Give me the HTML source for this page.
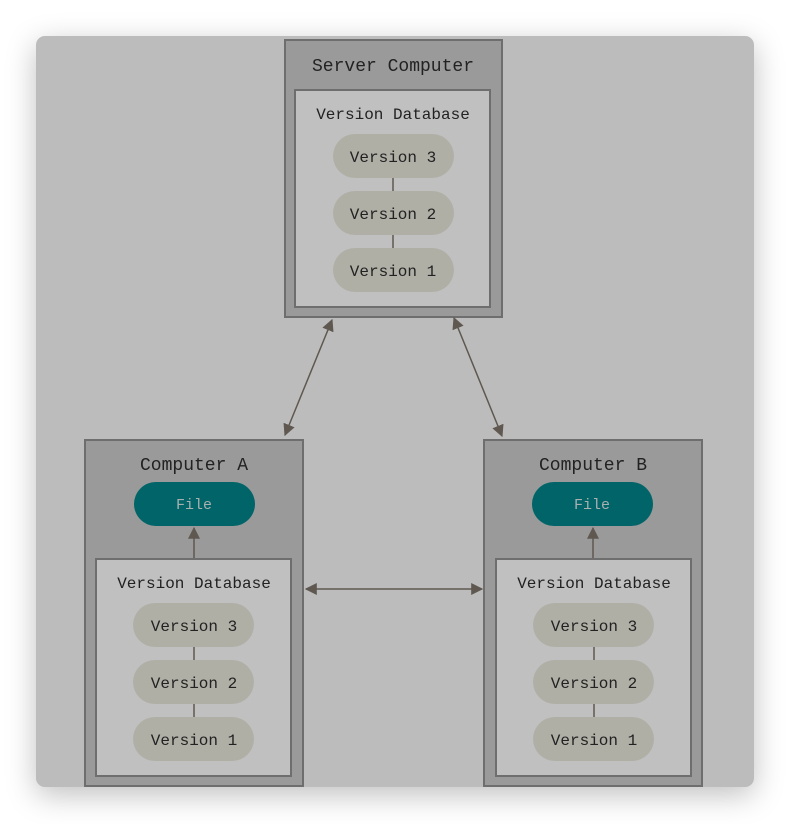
<!DOCTYPE html>
<html><head><meta charset="utf-8"><style>
html,body{margin:0;padding:0;background:#fff;width:790px;height:824px;overflow:hidden}
.bg{position:absolute;left:36px;top:36px;width:718px;height:751px;background:#bcbcbc;border-radius:9px;box-shadow:0 8px 30px rgba(0,0,0,0.25)}
svg{position:absolute;left:0;top:0}
text{font-family:"Liberation Mono","DejaVu Sans Mono",monospace;text-anchor:middle;fill:#222}
</style></head><body>
<div class="bg"></div>
<svg width="790" height="824" viewBox="0 0 790 824">
<defs>
<marker id="a" viewBox="0 0 10 10" refX="9" refY="5" markerWidth="8" markerHeight="8" orient="auto-start-reverse"><path d="M0,0L10,5L0,10z" fill="#5f5850"/></marker>
</defs>
<g stroke="#6e6e6e" stroke-width="2">
<rect x="285" y="40" width="217" height="277" fill="#9a9a9a"/>
<rect x="295" y="90" width="195" height="217" fill="#c0c0c0"/>
<rect x="85" y="440" width="218" height="346" fill="#9a9a9a"/>
<rect x="96" y="559" width="195" height="217" fill="#c0c0c0"/>
<rect x="484" y="440" width="218" height="346" fill="#9a9a9a"/>
<rect x="496" y="559" width="195" height="217" fill="#c0c0c0"/>
</g>
<g stroke="#5f5850" stroke-width="1.5">
<line x1="393" y1="178" x2="393" y2="248"/>
<line x1="194" y1="647" x2="194" y2="717"/>
<line x1="594" y1="647" x2="594" y2="717"/>
<line x1="332" y1="320" x2="285" y2="435" marker-start="url(#a)" marker-end="url(#a)"/>
<line x1="454" y1="318" x2="502" y2="436" marker-start="url(#a)" marker-end="url(#a)"/>
<line x1="306" y1="589" x2="482" y2="589" marker-start="url(#a)" marker-end="url(#a)"/>
<line x1="194" y1="558" x2="194" y2="528" marker-end="url(#a)"/>
<line x1="593" y1="558" x2="593" y2="528" marker-end="url(#a)"/>
</g>
<g fill="#b0afa6">
<rect x="333" y="134" width="121" height="44" rx="22"/>
<rect x="333" y="191" width="121" height="44" rx="22"/>
<rect x="333" y="248" width="121" height="44" rx="22"/>
<rect x="133" y="603" width="121" height="44" rx="22"/>
<rect x="133" y="660" width="121" height="44" rx="22"/>
<rect x="133" y="717" width="121" height="44" rx="22"/>
<rect x="533" y="603" width="121" height="44" rx="22"/>
<rect x="533" y="660" width="121" height="44" rx="22"/>
<rect x="533" y="717" width="121" height="44" rx="22"/>
</g>
<rect x="134" y="482" width="121" height="44" rx="22" fill="#006468"/>
<rect x="532" y="482" width="121" height="44" rx="22" fill="#006468"/>
<g font-size="18">
<text x="393" y="71">Server Computer</text>
<text x="194" y="470">Computer A</text>
<text x="593" y="470">Computer B</text>
</g>
<g font-size="16">
<text x="393" y="119">Version Database</text>
<text x="393" y="162">Version 3</text>
<text x="393" y="219">Version 2</text>
<text x="393" y="276">Version 1</text>
<text x="194" y="588">Version Database</text>
<text x="194" y="631">Version 3</text>
<text x="194" y="688">Version 2</text>
<text x="194" y="745">Version 1</text>
<text x="594" y="588">Version Database</text>
<text x="594" y="631">Version 3</text>
<text x="594" y="688">Version 2</text>
<text x="594" y="745">Version 1</text>
<text x="194" y="509" font-size="15" style="fill:#a8b0b0">File</text>
<text x="592" y="509" font-size="15" style="fill:#a8b0b0">File</text>
</g>
</svg>
</body></html>
